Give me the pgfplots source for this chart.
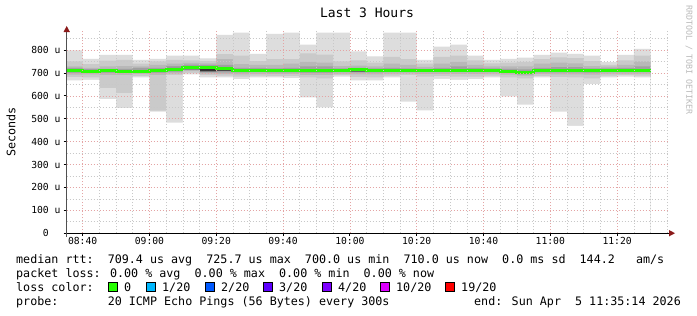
\documentclass[border=0pt]{standalone}
\usepackage{fontspec}
\usepackage{pgfplots}
\usepackage{pgfplotstable}
\pgfplotsset{compat=1.18}
\newfontfamily\rrd{DejaVu Sans Mono}
\definecolor{s1}{HTML}{DDDDDD}
\definecolor{s2}{HTML}{CACACA}
\definecolor{s3}{HTML}{B8B8B8}
\definecolor{s4}{HTML}{A0A0A0}
\definecolor{s5}{HTML}{767676}
\definecolor{s6}{HTML}{333333}
\definecolor{medgreen}{HTML}{26FF00}
\definecolor{gridred}{HTML}{E4A4A4}
\definecolor{gridgray}{HTML}{C8C8C8}
\definecolor{arrowred}{HTML}{8B1A1A}
\definecolor{axisgray}{HTML}{505050}
\definecolor{wm}{HTML}{BBBBBB}
\definecolor{l1}{HTML}{26FF00}
\definecolor{l2}{HTML}{00B8FF}
\definecolor{l3}{HTML}{0059FF}
\definecolor{l4}{HTML}{5E00FF}
\definecolor{l5}{HTML}{7E00FF}
\definecolor{l6}{HTML}{DD00FF}
\definecolor{l7}{HTML}{FF0000}

\pgfplotstableread{
x mn l2 l3 l4 l5 l6 md h6 h5 h4 h3 h2 mx
-4.767 667 682 692 700 705 705 711 711 716 722 728 750 798
0 670 680 694 700 704 704 708 708 712 716 722 738 761
5 585 634 690 700 705 705 709 709 712 718 728 754 779
10 546 612 690 700 705 705 708 708 712 718 730 757 779
15 680 686 695 700 703 703 706 706 712 722 728 740 757
20 531 535 690 700 706 706 711 711 716 722 735 750 761
25 483 690 698 705 712 712 717 717 722 730 740 757 775
30 694 700 708 712 714 717 725.7 721 730 736 744 755 775
35 680 690 698 702 704 708 723 720 727 735 742 752 764
40 680 688 696 702 708 710 718 714 722 735 760 782 866
45 673 684 694 702 707 707 711 711 715 722 738 775 876
50 680 688 696 703 707 707 711 711 715 722 735 752 783
55 680 686 695 702 706 706 710 710 714 720 735 760 871
60 677 686 695 702 706 706 710 710 714 722 740 760 876
65 593 680 690 700 706 706 710 710 716 728 748 785 823
70 550 676 690 700 706 706 711 711 716 728 745 780 876
75 684 690 697 703 707 707 710 710 714 720 730 750 876
80 667 682 694 702 706 706 713 713 717 722 732 755 794
85 667 680 694 702 706 706 710 710 714 720 728 745 772
90 680 688 697 703 707 707 710 710 714 722 740 770 876
95 575 690 698 704 707 707 710 710 714 720 735 760 876
100 536 684 695 703 707 707 710 710 713 718 726 740 757
105 674 686 696 703 707 707 710 710 714 722 740 770 815
110 670 684 695 703 707 707 710 710 716 728 748 775 823
115 673 684 695 703 707 707 710 710 714 722 735 755 776
120 681 688 697 703 707 707 711 711 715 720 728 742 757
125 597 680 692 700 704 704 707 707 711 718 728 745 761
130 561 676 688 694 697 697 700 700 708 715 728 748 767
135 680 686 695 702 706 706 709 709 714 722 740 760 779
140 531 682 694 702 706 706 710 710 715 725 745 768 789
145 469 680 694 702 706 706 711 711 716 725 742 765 783
150 651 676 692 701 705 705 710 710 714 720 730 752 775
155 681 688 697 703 707 707 711 711 715 720 727 735 747
160 684 690 697 703 707 707 710 710 714 722 735 755 779
165 681 688 697 704 708 708 710 710 716 728 750 775 805
170 681 688 697 704 708 708 710 710 716 728 750 775 805
}\smoke

\begin{document}
\begin{tikzpicture}[x=1bp,y=1bp]
\useasboundingbox (0,0) rectangle (697,315);
\fill[white] (0,0) rectangle (697,315);
\begin{axis}[
  at={(66.7bp,81.8bp)}, anchor=south west,
  scale only axis, width=601.3bp, height=202.2bp,
  xmin=-4.767, xmax=175.233, ymin=0, ymax=883,
  axis line style={draw=none},
  tick align=outside, xtick pos=bottom, ytick pos=left,
  major tick length=3bp, minor tick length=0pt,
  tick style={black, line width=0.8bp},
  xtick={0,20,...,160},
  xticklabels={08:40,09:00,09:20,09:40,10:00,10:20,10:40,11:00,11:20},
  minor xtick={5,10,15,25,30,35,45,50,55,65,70,75,85,90,95,105,110,115,125,130,135,145,150,155,165,170,175},
  ytick={0,100,...,800},
  yticklabels={0\phantom{~u},100 u,200 u,300 u,400 u,500 u,600 u,700 u,800 u},
  minor ytick={50,150,...,850},
  grid=both,
  major grid style={draw=gridred, line width=0.6bp, dash pattern=on 1bp off 2bp},
  minor grid style={draw=gridgray, line width=0.6bp, dash pattern=on 1bp off 2bp},
  axis on top,
  ticklabel style={font=\rrd\fontsize{9.7bp}{11bp}\selectfont, text=black},
  yticklabel style={anchor=east, inner sep=0pt, xshift=-3bp},
  xticklabel style={anchor=north, inner sep=0pt, yshift=-1bp, text height=7bp, text depth=0pt},
]
\addplot[const plot mark left, fill=s1, draw=none] table[x=x,y=mx]{\smoke} \closedcycle;
\addplot[const plot mark left, fill=s2, draw=none] table[x=x,y=h2]{\smoke} \closedcycle;
\addplot[const plot mark left, fill=s3, draw=none] table[x=x,y=h3]{\smoke} \closedcycle;
\addplot[const plot mark left, fill=s4, draw=none] table[x=x,y=h4]{\smoke} \closedcycle;
\addplot[const plot mark left, fill=s5, draw=none] table[x=x,y=h5]{\smoke} \closedcycle;
\addplot[const plot mark left, fill=s6, draw=none] table[x=x,y=h6]{\smoke} \closedcycle;
\addplot[const plot mark left, fill=s5, draw=none] table[x=x,y=l6]{\smoke} \closedcycle;
\addplot[const plot mark left, fill=s4, draw=none] table[x=x,y=l5]{\smoke} \closedcycle;
\addplot[const plot mark left, fill=s3, draw=none] table[x=x,y=l4]{\smoke} \closedcycle;
\addplot[const plot mark left, fill=s2, draw=none] table[x=x,y=l3]{\smoke} \closedcycle;
\addplot[const plot mark left, fill=s1, draw=none] table[x=x,y=l2]{\smoke} \closedcycle;
\addplot[const plot mark left, fill=white, draw=none] table[x=x,y=mn]{\smoke} \closedcycle;
\addplot[const plot mark left, draw=medgreen, line width=3bp] table[x=x,y=md]{\smoke};
\end{axis}
% axis lines and arrows
\draw[black, line width=1bp] (66.7,81.8) -- (670,81.8);
\fill[arrowred] (669,85) -- (675,81.8) -- (669,78.6) -- cycle;
\draw[axisgray, line width=1bp] (66.7,78.5) -- (66.7,284);
\fill[arrowred] (63.5,283) -- (66.7,289) -- (69.9,283) -- cycle;
% titles
\node[font=\rrd\fontsize{13bp}{15bp}\selectfont, anchor=base] at (367,297.5) {Last 3 Hours};
\node[rotate=90, font=\rrd\fontsize{11.7bp}{13bp}\selectfont, anchor=center] at (11,183) {Seconds};
\node[rotate=-90, font=\rrd\fontsize{8.3bp}{9bp}\selectfont, text=wm, anchor=center] at (689,255) {RRDTOOL / TOBI OETIKER};
% legend text
\begin{scope}[every node/.style={font=\rrd\fontsize{11.7bp}{13bp}\selectfont, anchor=base west, inner sep=0pt}]
\node at (16,52) {median rtt:~~709.4 us avg~~725.7 us max~~700.0 us min~~710.0 us now~~0.0 ms sd~~144.2~~~am/s};
\node at (16,38) {packet loss: 0.00 \% avg~~0.00 \% max~~0.00 \% min~~0.00 \% now};
\node at (16,24) {loss color:};
\node at (16,10) {probe:~~~~~~~20 ICMP Echo Pings (56 Bytes) every 300s};
\node[anchor=base east] at (681,10) {end: Sun Apr~~5 11:35:14 2026};
\foreach \xx/\cc/\tt in {108/l1/0, 146/l2/1\slash 20, 205/l3/2\slash 20, 263/l4/3\slash 20, 322/l5/4\slash 20, 380/l6/10\slash 20, 445/l7/19\slash 20}{
  \draw[black, line width=1bp, fill=\cc] (\xx+0.5,23.5) rectangle (\xx+9.5,33);
  \node at (\xx+16,24) {\tt};
}
\end{scope}
\end{tikzpicture}
\end{document}
